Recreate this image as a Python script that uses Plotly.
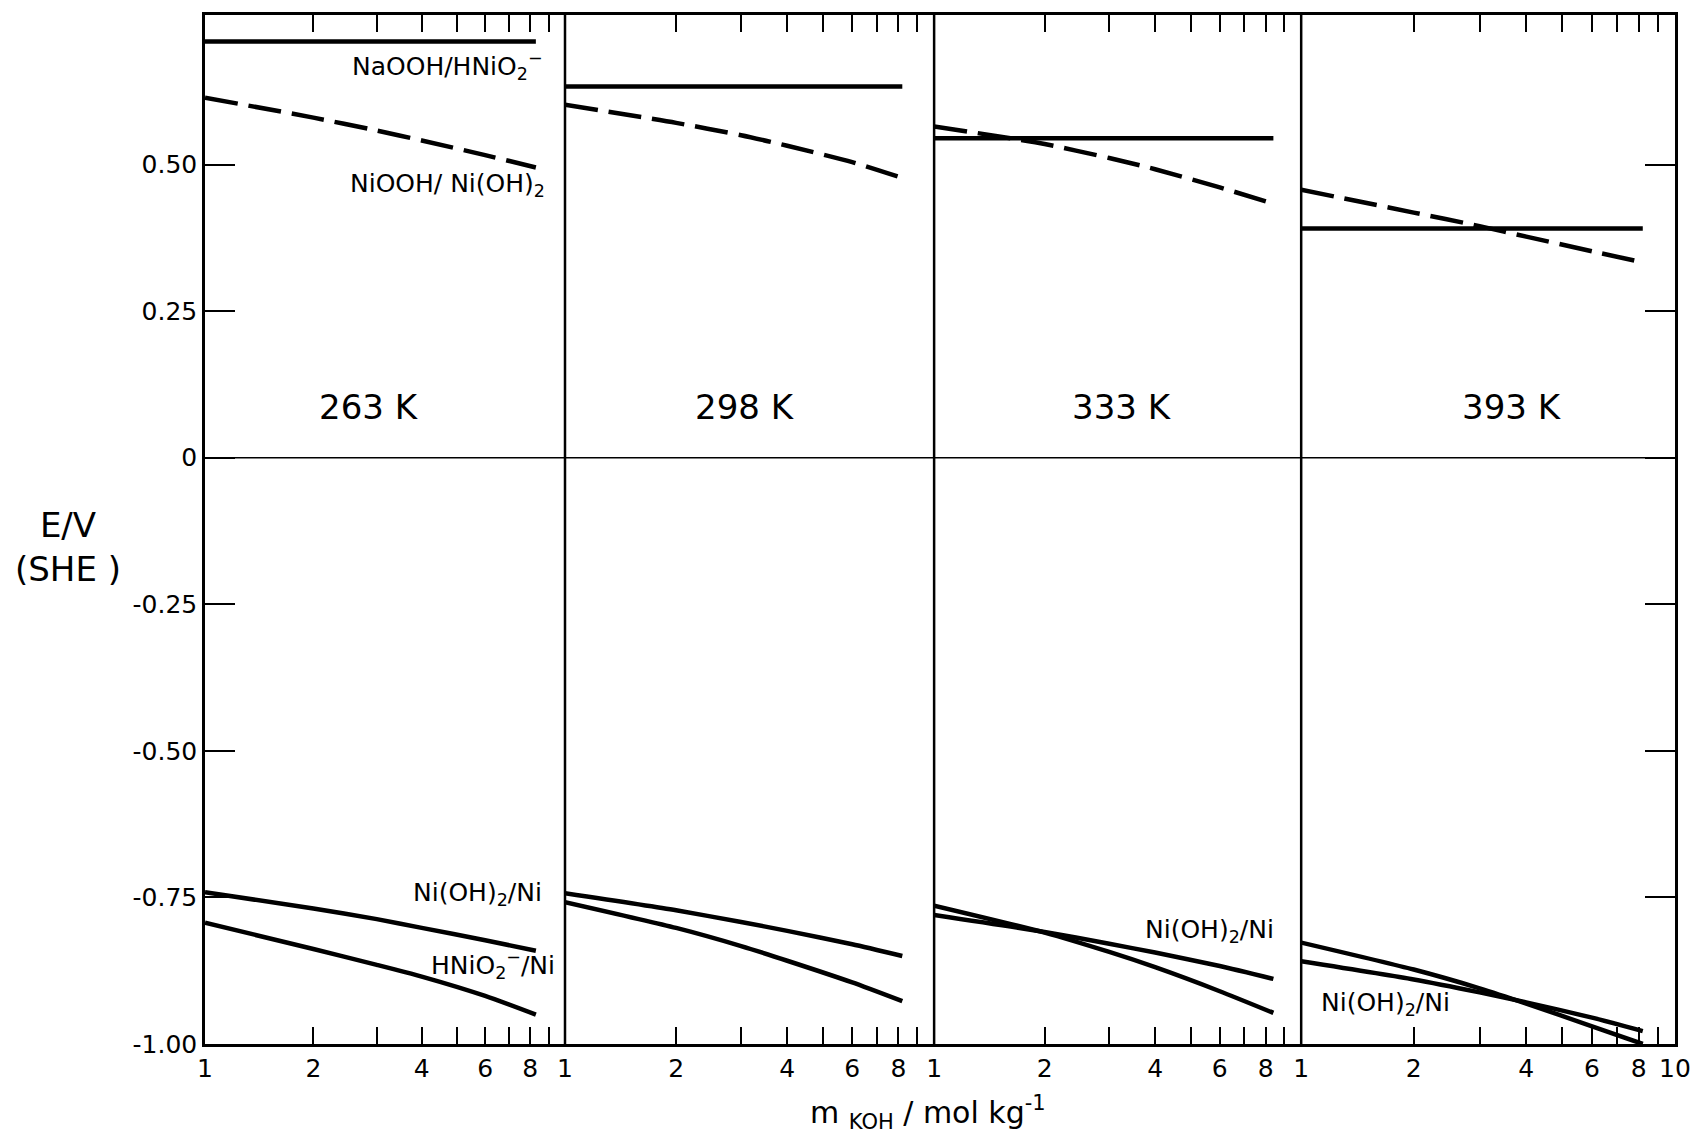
import plotly.graph_objects as go

# ---------------- data ----------------
temps = ["263 K", "298 K", "333 K", "393 K"]

# molality grids (mol/kg) per panel
m_263 = [1, 2, 3, 4, 6, 8.3]
m_298 = [1, 2, 3, 4, 6, 8.2]
m_333 = [1, 2, 3, 4, 6, 8.4]
m_393 = [1, 2, 3, 4, 6, 8.2]

# NaOOH/HNiO2- (solid, horizontal): value at first and last molality
naooh_263 = [0.710, 0.710]
naooh_298 = [0.633, 0.633]
naooh_333 = [0.545, 0.545]
naooh_393 = [0.391, 0.391]

# NiOOH/Ni(OH)2 (dashed)
niooh_263 = [0.614, 0.580, 0.558, 0.541, 0.516, 0.495]
niooh_298 = [0.602, 0.571, 0.550, 0.532, 0.504, 0.477]
niooh_333 = [0.565, 0.535, 0.511, 0.492, 0.461, 0.433]
niooh_393 = [0.457, 0.418, 0.395, 0.377, 0.352, 0.333]

# Ni(OH)2/Ni (solid)
nioh_263 = [-0.741, -0.769, -0.787, -0.802, -0.823, -0.841]
nioh_298 = [-0.743, -0.772, -0.792, -0.807, -0.830, -0.850]
nioh_333 = [-0.780, -0.809, -0.829, -0.844, -0.867, -0.889]
nioh_393 = [-0.859, -0.890, -0.912, -0.929, -0.955, -0.978]

# HNiO2-/Ni (solid)
hnio_263 = [-0.793, -0.838, -0.865, -0.885, -0.918, -0.950]
hnio_298 = [-0.758, -0.802, -0.833, -0.858, -0.895, -0.927]
hnio_333 = [-0.764, -0.810, -0.843, -0.869, -0.910, -0.947]
hnio_393 = [-0.827, -0.873, -0.905, -0.931, -0.970, -1.000]

x_major = [1, 2, 4, 6, 8]
x_major_last = [1, 2, 4, 6, 8, 10]
x_minor = [3, 5, 7, 9, 10]
x_minor_last = [3, 5, 7, 9]
y_tick_vals = [-1.0, -0.75, -0.5, -0.25, 0, 0.25, 0.5]
y_tick_text = ["-1.00", "-0.75", "-0.50", "-0.25", "0", "0.25", "0.50"]

# ---------------- figure ----------------
FONT = "DejaVu Sans"
LW = 4.5
panels = [
    (m_263, naooh_263, niooh_263, nioh_263, hnio_263),
    (m_298, naooh_298, niooh_298, nioh_298, hnio_298),
    (m_333, naooh_333, niooh_333, nioh_333, hnio_333),
    (m_393, naooh_393, niooh_393, nioh_393, hnio_393),
]

fig = go.Figure()
for i, (m, sol, dsh, nioh, hnio) in enumerate(panels):
    xa = "x" if i == 0 else f"x{i+1}"
    common = dict(xaxis=xa, yaxis="y", mode="lines", showlegend=False, hoverinfo="skip")
    fig.add_trace(go.Scatter(x=[m[0], m[-1]], y=sol, line=dict(color="black", width=LW), **common))
    fig.add_trace(go.Scatter(x=m, y=dsh, line=dict(color="black", width=LW, dash="33px,11px", shape="spline", smoothing=0.6), **common))
    fig.add_trace(go.Scatter(x=m, y=nioh, line=dict(color="black", width=LW, shape="spline", smoothing=0.6), **common))
    fig.add_trace(go.Scatter(x=m, y=hnio, line=dict(color="black", width=LW, shape="spline", smoothing=0.6), **common))

# invisible trace so the right-hand mirror axis is drawn
fig.add_trace(go.Scatter(x=m_393[:1], y=naooh_393[:1], xaxis="x4", yaxis="y2", mode="markers",
                         marker=dict(opacity=0), showlegend=False, hoverinfo="skip"))

doms = [(0.0, 0.2449), (0.2449, 0.4960), (0.4960, 0.7457), (0.7457, 1.0)]
for i, d in enumerate(doms):
    key = "xaxis" if i == 0 else f"xaxis{i+1}"
    last = i == 3
    maj = x_major_last if last else x_major
    fig.layout[key] = dict(
        domain=list(d), type="log", range=[0, 1], anchor="y",
        tickmode="array", tickvals=maj, ticktext=[str(v) for v in maj],
        ticks="inside", ticklen=17, tickwidth=2, tickcolor="black",
        minor=dict(tickmode="array", tickvals=x_minor_last if last else x_minor,
                   ticks="inside", ticklen=17, tickwidth=2, tickcolor="black", showgrid=False),
        showline=True, linewidth=2.5, linecolor="black", mirror="ticks",
        showgrid=False, zeroline=False,
        tickfont=dict(family=FONT, size=25, color="black"))

fig.update_layout(
    width=1703, height=1135,
    margin=dict(l=205, r=16, t=12, b=91),
    paper_bgcolor="white", plot_bgcolor="white",
    showlegend=False,
    yaxis=dict(domain=[0, 1], range=[-1.0, 0.755], anchor="x",
               tickvals=y_tick_vals, ticktext=y_tick_text,
               ticks="inside", ticklen=30, tickwidth=2, tickcolor="black",
               showline=True, linewidth=2.5, linecolor="black",
               showgrid=False, zeroline=False,
               tickfont=dict(family=FONT, size=25, color="black")),
    yaxis2=dict(overlaying="y", side="right", anchor="x4", range=[-1.0, 0.755],
                tickvals=y_tick_vals, ticks="inside", ticklen=30, tickwidth=2,
                tickcolor="black", showticklabels=False,
                showline=True, linewidth=2.5, linecolor="black",
                showgrid=False, zeroline=False),
)

# panel dividers and zero line
shapes = []
for d in doms[1:]:
    shapes.append(dict(type="line", xref="paper", yref="paper", x0=d[0], x1=d[0], y0=0, y1=1,
                       line=dict(color="black", width=2.5)))
shapes.append(dict(type="line", xref="paper", yref="y", x0=0, x1=1, y0=0, y1=0,
                   line=dict(color="black", width=1.5)))
fig.update_layout(shapes=shapes)

# annotations
ann = []
lab_font = dict(family=FONT, size=25, color="black")
temp_x = [0.455, 0.487, 0.513, 0.565]
for i, t in enumerate(temps):
    xr = "x" if i == 0 else f"x{i+1}"
    ann.append(dict(x=temp_x[i], y=0.087, xref=xr, yref="y", text=t, showarrow=False,
                    font=dict(family=FONT, size=34, color="black"), xanchor="center", yanchor="middle"))

ann += [
    dict(x=0.945, y=0.668, xref="x", yref="y", text="NaOOH/HNiO<sub>2</sub><sup>−</sup>",
         showarrow=False, font=lab_font, xanchor="right", yanchor="middle"),
    dict(x=0.95, y=0.465, xref="x", yref="y", text="NiOOH/ Ni(OH)<sub>2</sub>",
         showarrow=False, font=lab_font, xanchor="right", yanchor="middle"),
    dict(x=0.942, y=-0.745, xref="x", yref="y", text="Ni(OH)<sub>2</sub>/Ni",
         showarrow=False, font=lab_font, xanchor="right", yanchor="middle"),
    dict(x=0.978, y=-0.866, xref="x", yref="y", text="HNiO<sub>2</sub><sup>−</sup>/Ni",
         showarrow=False, font=lab_font, xanchor="right", yanchor="middle"),
    dict(x=0.932, y=-0.808, xref="x3", yref="y", text="Ni(OH)<sub>2</sub>/Ni",
         showarrow=False, font=lab_font, xanchor="right", yanchor="middle"),
    dict(x=0.048, y=-0.932, xref="x4", yref="y", text="Ni(OH)<sub>2</sub>/Ni",
         showarrow=False, font=lab_font, xanchor="left", yanchor="middle"),
    # axis titles
    dict(x=-0.0931, y=-0.153, xref="paper", yref="y", text="E/V<br>(SHE )",
         showarrow=False, font=dict(family=FONT, size=34, color="black"),
         xanchor="center", yanchor="middle", align="center"),
    dict(x=(934 - 205) / 1482, y=-0.067, xref="paper", yref="paper",
         text="m <sub>KOH</sub> / mol kg<sup>-1</sup>",
         showarrow=False, font=dict(family=FONT, size=30, color="black"),
         xanchor="center", yanchor="middle"),
]
fig.update_layout(annotations=ann)

fig.write_html("out.html")
